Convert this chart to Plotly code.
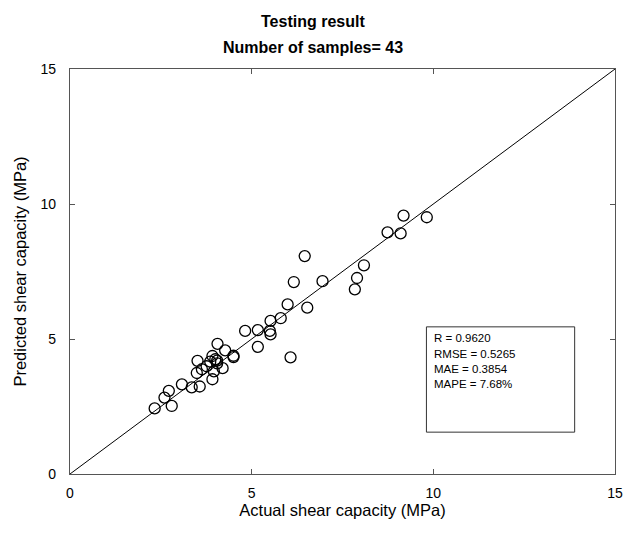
import plotly.graph_objects as go

actual = [2.33, 2.80, 2.60, 2.72, 3.08, 3.35, 3.57, 3.49, 3.51, 3.63,
          3.76, 3.92, 3.96, 3.86, 3.92, 4.00, 4.05, 4.06, 4.20, 4.27,
          4.50, 4.50, 4.82, 5.17, 5.17, 5.50, 5.52, 5.52, 5.80, 5.99,
          6.07, 6.16, 6.46, 6.53, 6.95, 7.84, 7.90, 8.09, 8.74, 9.10,
          9.18, 9.82, 4.05]
predicted = [2.43, 2.52, 2.83, 3.08, 3.32, 3.21, 3.24, 3.74, 4.19, 3.88,
             3.99, 3.51, 3.80, 4.16, 4.37, 4.25, 4.10, 4.82, 3.92, 4.58,
             4.33, 4.38, 5.30, 5.33, 4.71, 5.30, 5.17, 5.67, 5.77, 6.28,
             4.32, 7.11, 8.07, 6.16, 7.14, 6.84, 7.26, 7.73, 8.95, 8.91,
             9.57, 9.51, 4.20]
diag = [0, 15]
stats_lines = ["R = 0.9620", "RMSE = 0.5265", "MAE = 0.3854", "MAPE = 7.68%"]
stats_y = [5.02, 4.45, 3.89, 3.33]
titles = ["Testing result", "Number of samples= 43"]
ticks = [0, 5, 10, 15]

FONT = "Liberation Sans, Arial, sans-serif"

fig = go.Figure()
fig.add_trace(go.Scatter(x=diag, y=diag, mode="lines",
                         line=dict(color="black", width=1), hoverinfo="skip"))
fig.add_trace(go.Scatter(x=actual, y=predicted, mode="markers",
                         marker=dict(symbol="circle-open", size=11,
                                     line=dict(color="black", width=1.3),
                                     color="black")))

fig.add_shape(type="rect", xref="x", yref="y", x0=9.81, x1=13.89, y0=1.55, y1=5.45,
              line=dict(color="#333", width=1))
for txt, yy in zip(stats_lines, stats_y):
    fig.add_annotation(xref="x", yref="y", x=9.95, y=yy,
                       xanchor="left", yanchor="middle", showarrow=False,
                       text=txt, font=dict(family=FONT, size=11.5, color="black"))

for txt, yy in zip(titles, [1.1185, 1.054]):
    fig.add_annotation(xref="paper", yref="paper", x=0.445, y=yy,
                       xanchor="center", yanchor="middle", showarrow=False,
                       text="<b>" + txt + "</b>",
                       font=dict(family=FONT, size=16, color="black"))

fig.update_layout(
    width=629, height=534,
    margin=dict(l=70, r=6, t=69, b=60),
    paper_bgcolor="white", plot_bgcolor="white",
    showlegend=False,
    font=dict(family=FONT, size=13, color="black"),
)
axis_common = dict(range=[0, 15], tickvals=ticks, ticks="inside", ticklen=5,
                   tickcolor="#555", showline=True, linecolor="#555", linewidth=1.2,
                   mirror="ticks", showgrid=False, zeroline=False,
                   ticklabeloverflow="allow",
                   tickfont=dict(family=FONT, size=14, color="black"))
fig.update_xaxes(**axis_common, ticklabelstandoff=6,
                 title=dict(text="Actual shear capacity (MPa)", standoff=2,
                            font=dict(family=FONT, size=16.5, color="black")))
fig.update_yaxes(**axis_common, ticklabelstandoff=10,
                 title=dict(text="Predicted shear capacity (MPa)", standoff=9,
                            font=dict(family=FONT, size=16.5, color="black")))

fig.write_html("out.html")
